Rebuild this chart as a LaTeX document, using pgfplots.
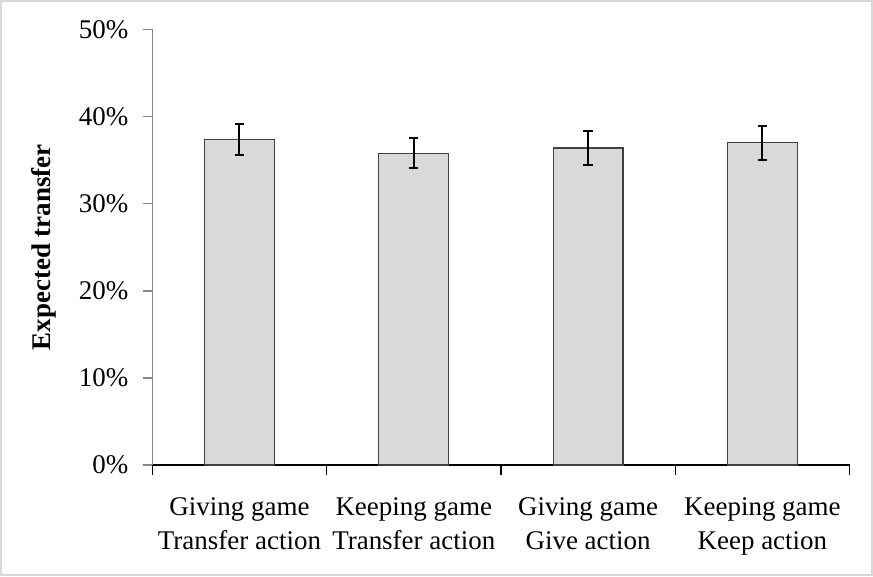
\documentclass[border=0pt]{standalone}
\usepackage{fontspec}
\setmainfont{Liberation Serif}
\usepackage{pgfplots}
\pgfplotsset{compat=1.18}
\definecolor{barfill}{HTML}{D9D9D9}
\definecolor{axisgray}{HTML}{868686}
\begin{document}
\begin{tikzpicture}
\begin{axis}[
    at={(0,0)}, anchor=south west,
    scale only axis,
    width=349pt, height=218pt,
    xmin=-0.5, xmax=3.5,
    ymin=0, ymax=50,
    axis x line*=bottom,
    axis y line*=left,
    axis line style={-},
    x axis line style={black, line width=0.6pt},
    y axis line style={axisgray, line width=0.8pt},
    tick align=outside,
    major tick length=4.5pt,
    minor tick length=5pt,
    xtick={0,1,2,3},
    xticklabels={{Giving game\\Transfer action},{Keeping game\\Transfer action},{Giving game\\Give action},{Keeping game\\Keep action}},
    major x tick style={draw=none},
    minor xtick={-0.5,0.5,1.5,2.5,3.5},
    minor x tick style={black, line width=0.6pt},
    ytick={0,10,20,30,40,50},
    yticklabel={\pgfmathprintnumber{\tick}\%},
    major y tick style={axisgray, line width=0.8pt},
    /pgf/number format/assume math mode=true,
    xticklabel style={align=center, font=\fontsize{13.5}{17}\selectfont, yshift=-8.5pt},
    yticklabel style={font=\fontsize{13.5}{16}\selectfont, xshift=-4pt},
    ylabel={Expected transfer},
    every axis y label/.style={at={(axis description cs:-0.156,0.5)}, rotate=90, anchor=center, font=\fontsize{13.5}{16}\selectfont\bfseries},
    clip=false,
]
\addplot[ybar, bar width=35pt, fill=barfill, draw=black!75, line width=0.6pt,
    error bars/.cd, y dir=both, y explicit,
    error bar style={black, line width=1pt},
    error mark options={rotate=90, mark size=2.3pt, line width=1pt, black}]
    coordinates {
    (0, 37.4) +- (0, 1.8)
    (1, 35.8) +- (0, 1.7)
    (2, 36.4) +- (0, 1.95)
    (3, 37.0) +- (0, 1.95)
};
\end{axis}
\pgfresetboundingbox
\draw[black!15, line width=1pt] (-75.75pt,-55.25pt) rectangle (360.25pt,232.25pt);
\end{tikzpicture}
\end{document}
